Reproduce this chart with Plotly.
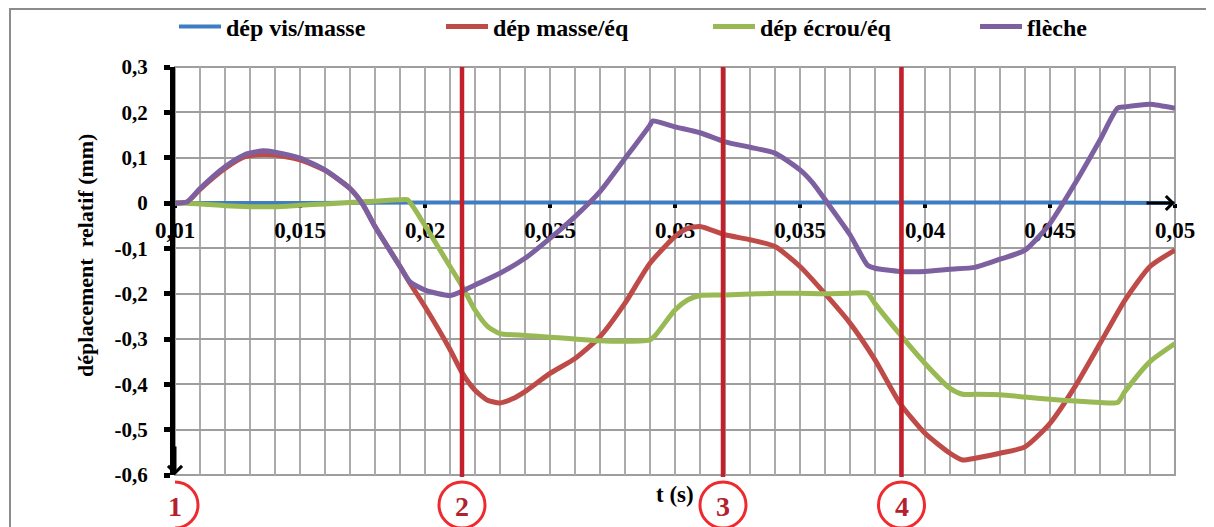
import plotly.graph_objects as go

# ---------------- data ----------------
t_vis = [0.010, 0.015, 0.020, 0.025, 0.030, 0.035, 0.040, 0.045, 0.050]
dep_vis = [0.0, 0.0, 0.001, 0.001, 0.001, 0.001, 0.001, 0.001, 0.0]

t_masse = [0.010, 0.0105, 0.011, 0.012, 0.0128, 0.0135, 0.014, 0.015, 0.016, 0.017,
           0.0175, 0.018, 0.019, 0.0194, 0.020, 0.021, 0.0215, 0.022, 0.0225, 0.023,
           0.0235, 0.024, 0.025, 0.026, 0.027, 0.028, 0.029, 0.030, 0.0305, 0.031,
           0.032, 0.033, 0.034, 0.035, 0.036, 0.037, 0.038, 0.039, 0.040, 0.041,
           0.0415, 0.042, 0.043, 0.044, 0.045, 0.046, 0.047, 0.048, 0.049, 0.050]
dep_masse = [0.0, 0.003, 0.030, 0.076, 0.102, 0.107, 0.106, 0.095, 0.072, 0.032,
             -0.002, -0.052, -0.140, -0.177, -0.229, -0.323, -0.376, -0.413, -0.435, -0.441,
             -0.432, -0.416, -0.376, -0.343, -0.295, -0.221, -0.133, -0.074, -0.056, -0.052,
             -0.070, -0.081, -0.096, -0.140, -0.200, -0.265, -0.346, -0.442, -0.508, -0.552,
             -0.567, -0.563, -0.552, -0.538, -0.486, -0.405, -0.310, -0.214, -0.140, -0.104]

t_ecrou = [0.010, 0.011, 0.012, 0.013, 0.014, 0.015, 0.016, 0.017, 0.018, 0.019,
           0.0193, 0.020, 0.021, 0.0215, 0.022, 0.0225, 0.023, 0.024, 0.025, 0.026,
           0.027, 0.028, 0.029, 0.0292, 0.030, 0.0305, 0.031, 0.032, 0.033, 0.034,
           0.035, 0.036, 0.037, 0.0377, 0.038, 0.039, 0.040, 0.041, 0.0415, 0.042,
           0.043, 0.044, 0.045, 0.046, 0.047, 0.0477, 0.048, 0.049, 0.050]
dep_ecrou = [0.0, -0.002, -0.006, -0.008, -0.008, -0.005, -0.002, 0.001, 0.004, 0.007,
             0.007, -0.050, -0.140, -0.185, -0.236, -0.272, -0.288, -0.292, -0.296, -0.300,
             -0.304, -0.305, -0.302, -0.293, -0.236, -0.214, -0.204, -0.203, -0.201, -0.199,
             -0.199, -0.200, -0.199, -0.199, -0.222, -0.290, -0.354, -0.409, -0.422, -0.422,
             -0.423, -0.428, -0.433, -0.437, -0.440, -0.440, -0.416, -0.350, -0.310]

t_fleche = [0.010, 0.0105, 0.011, 0.012, 0.0128, 0.0135, 0.014, 0.015, 0.016, 0.017,
            0.0175, 0.018, 0.019, 0.0194, 0.020, 0.021, 0.0215, 0.022, 0.023, 0.024,
            0.025, 0.026, 0.027, 0.028, 0.029, 0.0291, 0.030, 0.031, 0.032, 0.033,
            0.034, 0.035, 0.0355, 0.0361, 0.037, 0.0377, 0.038, 0.039, 0.040, 0.041,
            0.042, 0.043, 0.044, 0.045, 0.046, 0.047, 0.0477, 0.048, 0.049, 0.050]
fleche = [0.0, 0.003, 0.032, 0.080, 0.107, 0.115, 0.112, 0.099, 0.073, 0.032,
          -0.002, -0.052, -0.140, -0.174, -0.192, -0.204, -0.194, -0.181, -0.155, -0.122,
          -0.078, -0.030, 0.025, 0.098, 0.172, 0.181, 0.168, 0.155, 0.135, 0.123,
          0.110, 0.073, 0.045, 0.000, -0.070, -0.137, -0.144, -0.151, -0.151, -0.146,
          -0.142, -0.124, -0.104, -0.045, 0.043, 0.139, 0.209, 0.212, 0.218, 0.209]

x_tickvals = [0.010, 0.015, 0.020, 0.025, 0.030, 0.035, 0.040, 0.045, 0.050]
x_ticktext = ["0,01", "0,015", "0,02", "0,025", "0,03", "0,035", "0,04", "0,045", "0,05"]
y_tickvals = [0.3, 0.2, 0.1, 0.0, -0.1, -0.2, -0.3, -0.4, -0.5, -0.6]
y_ticktext = ["0,3", "0,2", "0,1", "0", "-0,1", "-0,2", "-0,3", "-0,4", "-0,5", "-0,6"]

phase_t = [0.010, 0.02148, 0.03192, 0.03906]
phase_labels = ["1", "2", "3", "4"]

series_names = ["dép vis/masse", "dép masse/éq", "dép écrou/éq", "flèche"]
series_colors = ["#3F7CC0", "#BE4B48", "#98B954", "#7D60A0"]
series_widths = [4, 5, 5, 5]

FONT = "Liberation Serif"

# ---------------- figure ----------------
fig = go.Figure()
for t, v, name, col, w in zip([t_vis, t_masse, t_ecrou, t_fleche],
                              [dep_vis, dep_masse, dep_ecrou, fleche],
                              series_names, series_colors, series_widths):
    fig.add_trace(go.Scatter(x=t, y=v, name=name, mode="lines",
                             line=dict(color=col, width=w, shape="spline", smoothing=0.6)))

grid_col = "#ABABAB"

# the page body adds an 8px offset, so the figure is 8px smaller than the window
fig.update_layout(
    width=1206, height=519,
    margin=dict(l=167, r=39, t=59, b=52, autoexpand=False),
    paper_bgcolor="white", plot_bgcolor="white",
    font=dict(family=FONT, color="black", size=20, weight="bold"),
    legend=dict(orientation="h", x=-0.001, xanchor="left", y=1.098, yanchor="middle",
                font=dict(family=FONT, size=24, color="black", weight="bold"),
                itemwidth=42, entrywidth=210, tracegroupgap=0,
                bgcolor="rgba(0,0,0,0)"),
    xaxis=dict(range=[0.010, 0.050], anchor="free", position=0.6667, layer="below traces",
               tickmode="array", tickvals=x_tickvals, ticktext=x_ticktext,
               showgrid=True, gridcolor=grid_col, gridwidth=1.5,
               minor=dict(dtick=0.001, tick0=0, showgrid=True, gridcolor=grid_col, gridwidth=1.5),
               showline=True, linecolor="black", linewidth=2,
               ticks="outside", ticklen=4, tickwidth=4, tickcolor="black",
               ticklabelstandoff=2,
               tickfont=dict(family=FONT, size=23, color="black", weight="bold"),
               zeroline=False),
    yaxis=dict(range=[-0.6, 0.3],
               tickmode="array", tickvals=y_tickvals, ticktext=y_ticktext,
               showgrid=True, gridcolor="#9E9E9E", gridwidth=2,
               showline=True, linecolor="black", linewidth=5,
               ticks="outside", ticklen=6, tickwidth=5, tickcolor="black",
               ticklabelstandoff=12,
               tickfont=dict(family=FONT, size=21, color="black", weight="bold"),
               zeroline=False),
    showlegend=True,
)

shapes = []
# plot area border
shapes.append(dict(type="rect", xref="paper", yref="paper", x0=0, x1=1, y0=0, y1=1,
                   line=dict(color="#9E9E9E", width=2), layer="below"))
# outer chart frame
shapes.append(dict(type="rect", xref="paper", yref="paper", x0=-0.165, x1=1.033, y0=-0.2, y1=1.142,
                   line=dict(color="#8C8C8C", width=2), layer="below"))
# phase lines
for t in phase_t[1:]:
    shapes.append(dict(type="line", xref="x", yref="paper", x0=t, x1=t, y0=-0.005, y1=1,
                       line=dict(color="#C3202B", width=4.5), layer="above"))
# phase circles
for t in phase_t:
    shapes.append(dict(type="circle", xref="x", yref="paper", xsizemode="pixel", ysizemode="pixel",
                       xanchor=t, yanchor=0, x0=-23, x1=23, y0=-53, y1=-7,
                       line=dict(color="#EE2A2F", width=3), layer="above"))
fig.update_layout(shapes=shapes)

annotations = []
for t, lab in zip(phase_t, phase_labels):
    annotations.append(dict(x=t, y=0, xref="x", yref="paper", text=lab, showarrow=False,
                            yanchor="middle", xanchor="center", yshift=-31,
                            font=dict(family=FONT, size=28, color="#B3212E", weight="bold")))
# axis arrows
annotations.append(dict(x=0.010, y=-0.6, xref="x", yref="y", ax=0, ay=-30, showarrow=True,
                        arrowhead=4, arrowsize=0.9, arrowwidth=3, arrowcolor="black", text=""))
annotations.append(dict(x=0.050, y=0.0, xref="x", yref="y", ax=-30, ay=0, showarrow=True,
                        arrowhead=4, arrowsize=0.9, arrowwidth=3, arrowcolor="black", text=""))
# axis titles
annotations.append(dict(x=-0.089, y=0.537, xref="paper", yref="paper", text="déplacement&nbsp; relatif (mm)",
                        textangle=-90, showarrow=False, xanchor="center", yanchor="middle",
                        font=dict(family=FONT, size=22, color="black", weight="bold")))
annotations.append(dict(x=0.500, y=-0.047, xref="paper", yref="paper", text="t (s)",
                        showarrow=False, xanchor="center", yanchor="middle",
                        font=dict(family=FONT, size=23, color="black", weight="bold")))
fig.update_layout(annotations=annotations)

fig.write_html("out.html")
